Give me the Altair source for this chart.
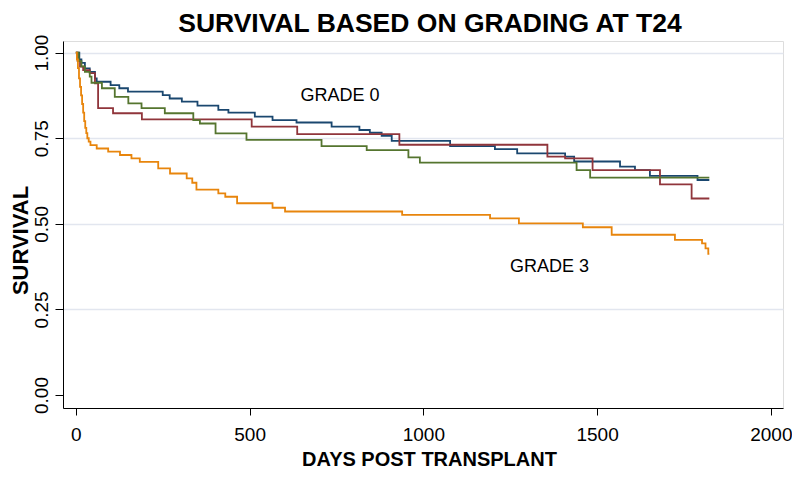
import altair as alt
import pandas as pd

# ---- data (Kaplan-Meier step points) ----
grades = ["GRADE 0", "GRADE 1", "GRADE 2", "GRADE 3"]
colors = ["#1a476f", "#90353b", "#55752f", "#e8850c"]

g0_days = [0, 10, 16, 26, 40, 55, 60, 100, 125, 150, 250, 270, 305, 350, 410, 439, 515, 566, 635, 736,
           816, 846, 880, 909, 1077, 1206, 1270, 1408, 1434, 1566, 1609, 1652, 1789, 1823]
g0_surv = [1.0, 0.98, 0.97, 0.954, 0.944, 0.925, 0.915, 0.905, 0.896, 0.886, 0.876, 0.866, 0.857, 0.845,
           0.833, 0.825, 0.813, 0.803, 0.796, 0.784, 0.774, 0.766, 0.757, 0.742, 0.727, 0.718, 0.706,
           0.696, 0.682, 0.667, 0.657, 0.640, 0.628, 0.628]

g1_days = [0, 5, 12, 21, 40, 55, 64, 107, 190, 506, 637, 931, 1357, 1408, 1487, 1681, 1772, 1823]
g1_surv = [1.0, 0.975, 0.959, 0.949, 0.94, 0.91, 0.838, 0.823, 0.805, 0.784, 0.762, 0.731, 0.696,
           0.691, 0.657, 0.615, 0.574, 0.574]

g2_days = [0, 8, 16, 26, 40, 45, 75, 112, 151, 189, 256, 338, 357, 402, 491, 707, 837, 957, 990,
           1441, 1480, 1823]
g2_surv = [1.0, 0.975, 0.96, 0.944, 0.93, 0.912, 0.896, 0.871, 0.852, 0.838, 0.823, 0.803, 0.793,
           0.764, 0.745, 0.727, 0.715, 0.694, 0.679, 0.657, 0.635, 0.635]

g3_days = [0, 3, 6, 9, 12, 15, 18, 21, 24, 27, 30, 33, 37, 42, 60, 93, 127, 160, 184, 237, 271, 319,
           335, 347, 410, 430, 464, 566, 602, 939, 1192, 1275, 1459, 1542, 1724, 1802, 1812, 1820, 1823]
g3_surv = [1.0, 0.98, 0.955, 0.925, 0.90, 0.875, 0.85, 0.825, 0.80, 0.78, 0.765, 0.75, 0.74, 0.73,
           0.72, 0.711, 0.701, 0.691, 0.681, 0.662, 0.647, 0.633, 0.62, 0.60, 0.589, 0.579, 0.560,
           0.547, 0.536, 0.526, 0.516, 0.501, 0.490, 0.468, 0.453, 0.443, 0.428, 0.412, 0.412]

label_text = ["GRADE 0", "GRADE 3"]
label_days = [760, 1363]
label_surv = [0.874, 0.375]

x_ticks = [0, 500, 1000, 1500, 2000]
y_ticks = [0.0, 0.25, 0.5, 0.75, 1.0]

FONT = "Liberation Sans"

rows = []
for name, days, surv in zip(grades, [g0_days, g1_days, g2_days, g3_days],
                            [g0_surv, g1_surv, g2_surv, g3_surv]):
    for d, s in zip(days, surv):
        rows.append({"grade": name, "days": d, "survival": s})
df = pd.DataFrame(rows)
labels_df = pd.DataFrame({"label": label_text, "days": label_days, "survival": label_surv})

x_enc = alt.X(
    "days:Q",
    scale=alt.Scale(domain=[-37, 2035], nice=False, zero=False),
    axis=alt.Axis(
        values=x_ticks, format="d", title="DAYS POST TRANSPLANT", grid=False,
        tickSize=7, labelPadding=10, labelFontSize=19, labelFont=FONT, labelColor="black",
        domainColor="black", tickColor="black",
        titleFont=FONT, titleFontSize=20, titleFontWeight="bold", titleColor="black",
        titleX=366, titleY=57, titleBaseline="alphabetic", titleAlign="center",
    ),
)
y_enc = alt.Y(
    "survival:Q",
    scale=alt.Scale(domain=[-0.038, 1.034], nice=False, zero=False),
    axis=alt.Axis(
        values=y_ticks, format=".2f", title="SURVIVAL",
        grid=True, gridColor="#e2e6ef", gridWidth=1.5,
        gridOpacity=alt.condition("datum.value === 0", alt.value(0), alt.value(1)),
        tickSize=8, labelAngle=270, labelAlign="center", labelBaseline="bottom", labelPadding=4,
        labelFontSize=19, labelFont=FONT, labelColor="black",
        domainColor="black", tickColor="black",
        titleFont=FONT, titleFontSize=22, titleFontWeight="bold", titleColor="black",
        titleAngle=270, titleX=-43, titleY=199, titleBaseline="middle", titleAlign="center",
    ),
)

lines = alt.Chart(df).mark_line(interpolate="step-after", strokeWidth=1.8).encode(
    x=x_enc,
    y=y_enc,
    color=alt.Color("grade:N", scale=alt.Scale(domain=grades, range=colors), legend=None),
    order=alt.Order("days:Q"),
)

texts = alt.Chart(labels_df).mark_text(
    font=FONT, fontSize=18, color="black", align="center", baseline="middle"
).encode(x="days:Q", y="survival:Q", text="label:N")

chart = (
    alt.layer(lines, texts)
    .properties(
        width=720,
        height=367,
        autosize=alt.AutoSizeParams(type="none"),
        padding={"left": 55, "top": 33, "right": 9, "bottom": 62},
        title=alt.TitleParams(
            "SURVIVAL BASED ON GRADING AT T24", font=FONT, fontSize=26.5, fontWeight="bold",
            color="black", anchor="middle", offset=9, dx=7, dy=12,
        ),
    )
    .configure_view(stroke=None)
    .configure(background="white")
)

chart.save("out.html", embed_options={"renderer": "svg", "actions": False})
